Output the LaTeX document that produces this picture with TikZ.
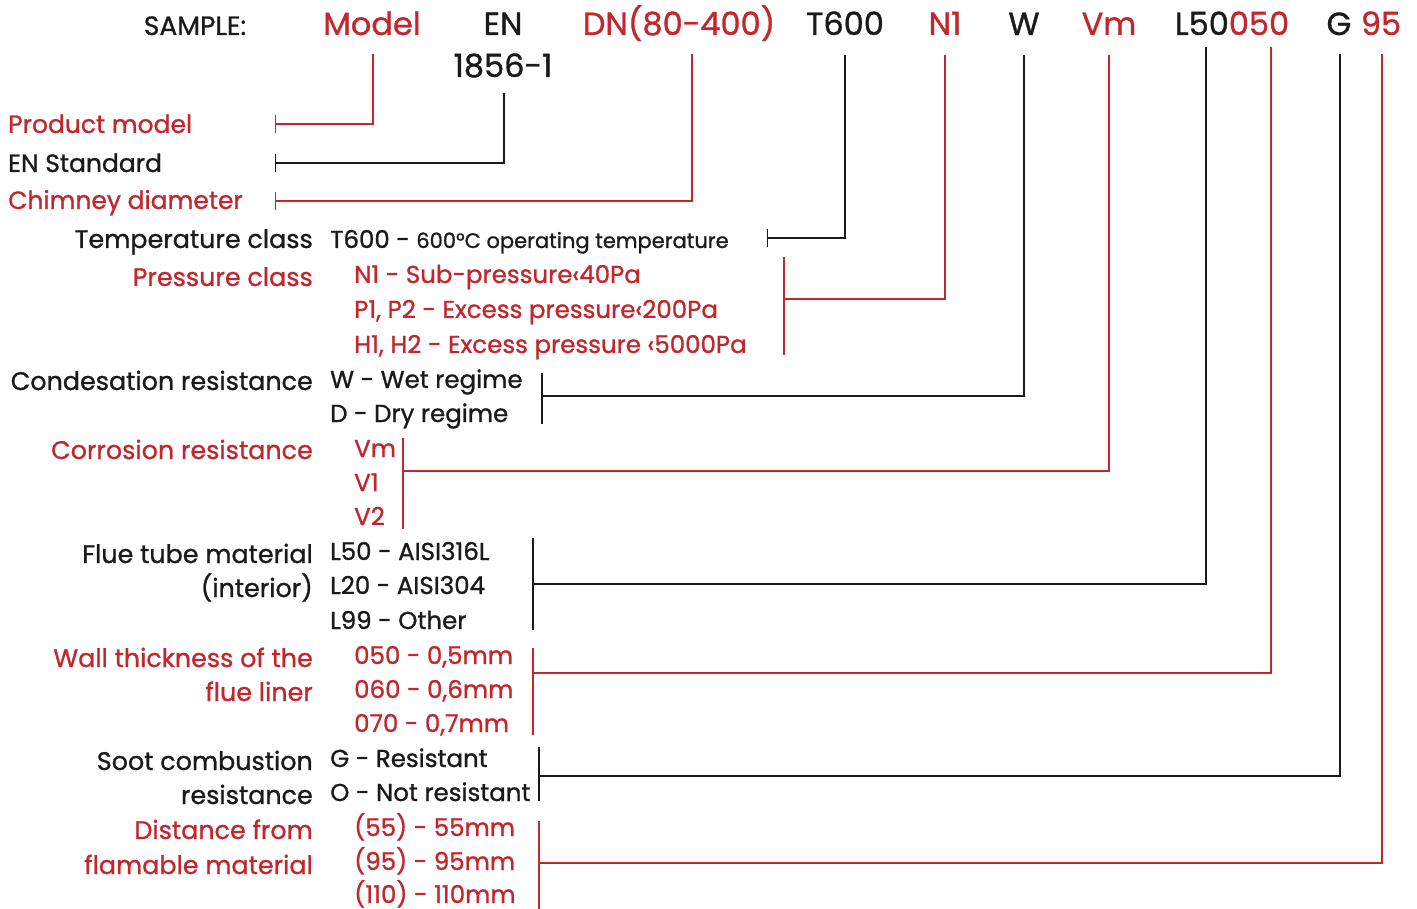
\documentclass[tikz,border=0pt]{standalone}
\usepackage{fontspec}
\setmainfont{Poppins}[FakeBold=1.0]
\usetikzlibrary{arrows.meta}
\definecolor{rd}{RGB}{193,39,45}
\definecolor{bk}{RGB}{26,26,26}
\begin{document}
\begin{tikzpicture}[x=1pt,y=-1pt,
  hdr/.style={font=\fontsize{32}{32}\selectfont, inner sep=0pt, anchor=base, text=bk},
  lbl/.style={font=\fontsize{25.4}{25.4}\selectfont, inner sep=0pt, anchor=base east, text=bk},
  tl/.style={font=\fontsize{25}{25}\selectfont, inner sep=0pt, anchor=base west, text=bk},
  itm/.style={font=\fontsize{24.5}{24.5}\selectfont, inner sep=0pt, anchor=base west, text=bk},
  rt/.style={text=rd},
  ln/.style={line width=1.4pt},
  rl/.style={ln, draw=rd},
  bl/.style={ln, draw=bk},
  tick/.style={-{Bar[width=18pt,line width=1.4pt]}}
]
\useasboundingbox (0,0) rectangle (1417,909);
% header
\node[hdr, font=\fontsize{26.5}{26.5}\selectfont] (sample) at (195,35) {SAMPLE:};
\node[hdr,rt] (model) at (372,35) {Model};
\node[hdr] (en) at (503,35) {EN};
\node[hdr] (en2) at (503,77) {1856-1};
\node[hdr,rt] (dn) at (679,35) {DN(80-400)};
\node[hdr] (t600) at (845,35) {T600};
\node[hdr,rt] (n1) at (945,35) {N1};
\node[hdr] (w) at (1024,35) {W};
\node[hdr,rt] (vm) at (1109,35) {Vm};
\node[hdr] (lcode) at (1232,35) {L50\textcolor{rd}{050}};
\node[hdr] (g) at (1339,35) {G};
\node[hdr,rt] (n95) at (1381,35) {95};
% top-left labels
\node[tl,rt] (pm) at (8,133) {Product model};
\node[tl] (ens) at (8,172) {EN Standard};
\node[tl,rt] (cd) at (8,209) {Chimney diameter};
% left labels
\node[lbl] (tc) at (313,248) {Temperature class};
\node[lbl,rt] (pc) at (313,286) {Pressure class};
\node[lbl] (cr) at (313,390) {Condesation resistance};
\node[lbl,rt] (co) at (313,459) {Corrosion resistance};
\node[lbl] (ft1) at (313,563) {Flue tube material};
\node[lbl] (ft2) at (313,597) {(interior)};
\node[lbl,rt] (wt1) at (313,667) {Wall thickness of the};
\node[lbl,rt] (wt2) at (313,701) {flue liner};
\node[lbl] (sc1) at (313,770) {Soot combustion};
\node[lbl] (sc2) at (313,804) {resistance};
\node[lbl,rt] (df1) at (313,839) {Distance from};
\node[lbl,rt] (df2) at (313,874) {flamable material};
% items
\node[itm] (i1) at (330,248) {T600 - {\fontsize{21}{21}\selectfont 600°C operating temperature}};
\node[itm,rt] (p1) at (354,283) {N1 - Sub-pressure‹40Pa};
\node[itm,rt] (p2) at (354,318) {P1, P2 - Excess pressure‹200Pa};
\node[itm,rt] (p3) at (354,353) {H1, H2 - Excess pressure ‹5000Pa};
\node[itm] (c1) at (330,388) {W - Wet regime};
\node[itm] (c2) at (330,422) {D - Dry regime};
\node[itm,rt] (v1) at (354,457) {Vm};
\node[itm,rt] (v2) at (354,491) {V1};
\node[itm,rt] (v3) at (354,525) {V2};
\node[itm] (l1) at (330,560) {L50 - AISI316L};
\node[itm] (l2) at (330,594) {L20 - AISI304};
\node[itm] (l3) at (330,629) {L99 - Other};
\node[itm,rt] (w1) at (354,664) {050 - 0,5mm};
\node[itm,rt] (w2) at (354,698) {060 - 0,6mm};
\node[itm,rt] (w3) at (354,732) {070 - 0,7mm};
\node[itm] (s1) at (330,767) {G - Resistant};
\node[itm] (s2) at (330,801) {O - Not resistant};
\node[itm,rt] (d1) at (354,836) {(55) - 55mm};
\node[itm,rt] (d2) at (354,870) {(95) - 95mm};
\node[itm,rt] (d3) at (354,903) {(110) - 110mm};
% connector points
\coordinate (mT) at (373,54);   \coordinate (mE) at (275,124);
\coordinate (eT) at (504,93);   \coordinate (eE) at (275,163);
\coordinate (dT) at (692,54);   \coordinate (dE) at (275,201);
\coordinate (tT) at (845,55);   \coordinate (tE) at (767,238);
\coordinate (nT) at (945,55);   \coordinate (nE) at (784,299);
\coordinate (nB1) at (784,257); \coordinate (nB2) at (784,355);
\coordinate (wT) at (1024,55);  \coordinate (wE) at (542,396);
\coordinate (wB1) at (542,373); \coordinate (wB2) at (542,424);
\coordinate (vT) at (1109,55);  \coordinate (vE) at (403,471);
\coordinate (vB1) at (403,438); \coordinate (vB2) at (403,529);
\coordinate (lT) at (1206,47);  \coordinate (lE) at (533,584);
\coordinate (lB1) at (533,538); \coordinate (lB2) at (533,630);
\coordinate (oT) at (1271,47);  \coordinate (oE) at (533,673);
\coordinate (oB1) at (533,648); \coordinate (oB2) at (533,735);
\coordinate (gT) at (1340,54);  \coordinate (gE) at (539,776);
\coordinate (gB1) at (539,747); \coordinate (gB2) at (539,801);
\coordinate (fT) at (1382,54);  \coordinate (fE) at (539,863);
\coordinate (fB1) at (539,821); \coordinate (fB2) at (539,909);
% connectors
\draw[rl,tick] (mT) |- (mE);
\draw[bl,tick] (eT) |- (eE);
\draw[rl,tick] (dT) |- (dE);
\draw[bl,tick] (tT) |- (tE);
\draw[rl] (nT) |- (nE); \draw[rl] (nB1) -- (nB2);
\draw[bl] (wT) |- (wE); \draw[bl] (wB1) -- (wB2);
\draw[rl] (vT) |- (vE); \draw[rl] (vB1) -- (vB2);
\draw[bl] (lT) |- (lE); \draw[bl] (lB1) -- (lB2);
\draw[rl] (oT) |- (oE); \draw[rl] (oB1) -- (oB2);
\draw[bl] (gT) |- (gE); \draw[bl] (gB1) -- (gB2);
\draw[rl] (fT) |- (fE); \draw[rl] (fB1) -- (fB2);
\end{tikzpicture}
\end{document}
